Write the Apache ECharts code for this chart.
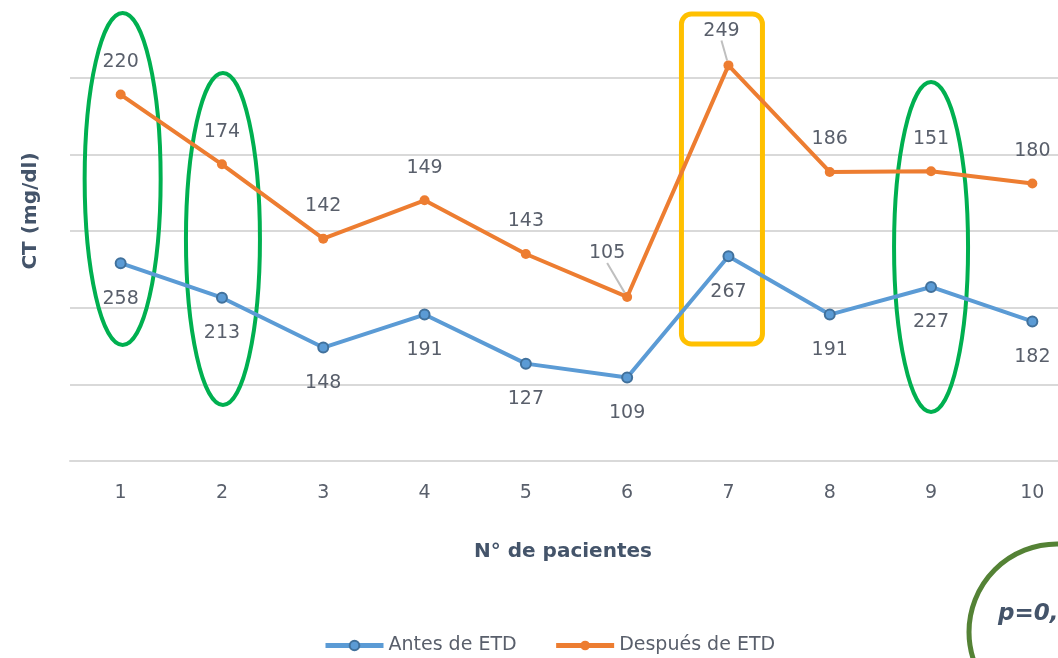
<!DOCTYPE html>
<html>
<head>
<meta charset="utf-8">
<script src="https://cdn.jsdelivr.net/npm/echarts@6/dist/echarts.min.js"></script>
<style>
  html, body { margin: 0; padding: 0; background: #fff; }
  #chart { width: 1058px; height: 658px; }
</style>
</head>
<body>
<div id="chart"></div>
<script>
// categories and values
const pacientes = ["1", "2", "3", "4", "5", "6", "7", "8", "9", "10"];
const antes = [258, 213, 148, 191, 127, 109, 267, 191, 227, 182];
const despues = [220, 174, 142, 149, 143, 105, 249, 186, 151, 180];

const textColor = "#595f6b";
const titleColor = "#44546a";

const chart = echarts.init(document.getElementById("chart"));

const despuesData = despues.map((v, i) => {
  if (i === 5) {
    return { value: v, label: { offset: [-20, -11] }, labelLine: { show: true } };
  }
  if (i === 6) {
    return { value: v, label: { offset: [-7, -2] }, labelLine: { show: true } };
  }
  return v;
});

const option = {
  animation: false,
  textStyle: { fontFamily: "DejaVu Sans" },
  // plot runs past the right edge, as in the cropped original
  grid: { left: 70, width: 1013, top: 1, bottom: 197, outerBoundsMode: "none" },
  legend: {
    top: 631,
    left: 318,
    itemWidth: 58,
    itemHeight: 12,
    itemGap: 37,
    lineStyle: { width: 5 },
    textStyle: { color: textColor, fontSize: 19 },
  },
  xAxis: {
    type: "category",
    data: pacientes,
    name: "N° de pacientes",
    nameLocation: "middle",
    nameGap: 81,
    nameTextStyle: { color: titleColor, fontSize: 20, fontWeight: "bold", padding: [0, 27, 0, 0] },
    axisLine: { lineStyle: { color: "#d9d9d9", width: 2 } },
    axisTick: { show: false },
    axisLabel: { color: textColor, fontSize: 19, margin: 23 },
  },
  yAxis: {
    type: "value",
    min: 0,
    max: 600,
    interval: 100,
    name: "CT (mg/dl)",
    nameLocation: "middle",
    nameGap: 29,
    nameTextStyle: { color: titleColor, fontSize: 20, fontWeight: "bold", padding: [0, 0, 0, 40] },
    axisLabel: { show: false },
    axisLine: { show: false },
    axisTick: { show: false },
    splitLine: { showMaxLine: false, lineStyle: { color: "#d9d9d9", width: 2 } },
  },
  series: [
    {
      name: "Antes de ETD",
      type: "line",
      stack: "ct",
      data: antes,
      symbol: "circle",
      symbolSize: 10,
      lineStyle: { color: "#5b9bd5", width: 4 },
      itemStyle: { color: "#5b9bd5", borderColor: "#41719c", borderWidth: 2 },
      label: { show: true, position: "bottom", distance: 20, color: textColor, fontSize: 19 },
    },
    {
      name: "Después de ETD",
      type: "line",
      stack: "ct",
      data: despuesData,
      symbol: "circle",
      symbolSize: 10,
      lineStyle: { color: "#ed7d31", width: 4 },
      itemStyle: { color: "#ed7d31" },
      label: { show: true, position: "top", distance: 18, color: textColor, fontSize: 19 },
      labelLine: { lineStyle: { color: "#bfbfbf", width: 2 } },
    },
  ],
};

chart.setOption(option);

// highlight marks drawn over the chart, placed from the category axis
const px = (i) => chart.convertToPixel({ xAxisIndex: 0 }, i);
chart.setOption({
  graphic: [
    { type: "ellipse", shape: { cx: px(0) + 2, cy: 179, rx: 38, ry: 166 }, style: { fill: null, stroke: "#00b050", lineWidth: 4 } },
    { type: "ellipse", shape: { cx: px(1) + 1, cy: 239, rx: 37, ry: 166 }, style: { fill: null, stroke: "#00b050", lineWidth: 4 } },
    { type: "ellipse", shape: { cx: px(8), cy: 247, rx: 37, ry: 165 }, style: { fill: null, stroke: "#00b050", lineWidth: 4 } },
    { type: "rect", shape: { x: px(6) - 47, y: 14, width: 81, height: 330, r: 10 }, style: { fill: null, stroke: "#ffc000", lineWidth: 5 } },
    { type: "circle", shape: { cx: 1057, cy: 632, r: 88 }, style: { fill: null, stroke: "#548235", lineWidth: 5 } },
    { type: "text", left: 998, top: 603, style: { text: "p=0,", fill: titleColor, font: "italic bold 23px 'DejaVu Sans'" } },
  ],
});
</script>
</body>
</html>
